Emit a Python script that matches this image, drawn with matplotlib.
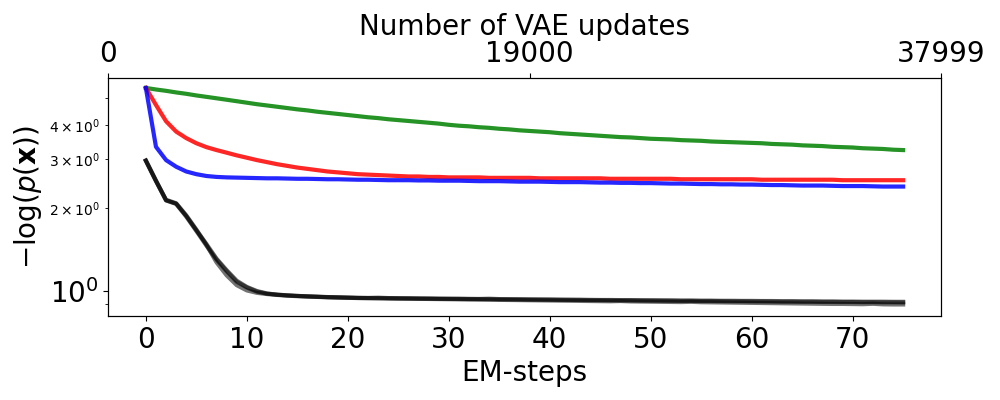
import numpy as np
import matplotlib
matplotlib.use('Agg')
import matplotlib.pyplot as plt

steps = np.arange(76)

green = [5.44, 5.37, 5.31, 5.24, 5.18, 5.11, 5.05, 4.99, 4.93, 4.87,
         4.81, 4.75, 4.70, 4.65, 4.60, 4.55, 4.51, 4.46, 4.42, 4.38,
         4.34, 4.30, 4.26, 4.23, 4.19, 4.16, 4.13, 4.10, 4.07, 4.04,
         4.00, 3.97, 3.95, 3.92, 3.90, 3.87, 3.85, 3.82, 3.80, 3.78,
         3.76, 3.73, 3.71, 3.69, 3.67, 3.65, 3.63, 3.61, 3.60, 3.58,
         3.56, 3.55, 3.54, 3.52, 3.51, 3.50, 3.48, 3.47, 3.46, 3.45,
         3.44, 3.43, 3.41, 3.40, 3.39, 3.37, 3.36, 3.35, 3.33, 3.32,
         3.31, 3.29, 3.28, 3.27, 3.25, 3.24]

red = [5.44, 4.72, 4.12, 3.78, 3.58, 3.43, 3.32, 3.24, 3.17, 3.10,
       3.04, 2.98, 2.93, 2.88, 2.84, 2.80, 2.77, 2.74, 2.71, 2.69,
       2.67, 2.65, 2.64, 2.63, 2.62, 2.61, 2.60, 2.60, 2.59, 2.59,
       2.58, 2.58, 2.58, 2.58, 2.57, 2.57, 2.57, 2.57, 2.57, 2.56,
       2.56, 2.56, 2.56, 2.56, 2.56, 2.56, 2.55, 2.55, 2.55, 2.55,
       2.55, 2.55, 2.55, 2.54, 2.54, 2.54, 2.54, 2.54, 2.54, 2.54,
       2.54, 2.53, 2.53, 2.53, 2.53, 2.53, 2.53, 2.53, 2.53, 2.52,
       2.52, 2.52, 2.52, 2.52, 2.52, 2.52]

blue = [5.44, 3.33, 2.98, 2.82, 2.71, 2.65, 2.61, 2.59, 2.58, 2.575,
        2.57, 2.565, 2.56, 2.56, 2.555, 2.55, 2.55, 2.545, 2.54, 2.54,
        2.535, 2.53, 2.53, 2.525, 2.52, 2.52, 2.52, 2.515, 2.515, 2.51,
        2.51, 2.51, 2.505, 2.50, 2.50, 2.50, 2.495, 2.49, 2.49, 2.49,
        2.485, 2.48, 2.48, 2.48, 2.475, 2.47, 2.47, 2.465, 2.465, 2.46,
        2.46, 2.455, 2.45, 2.45, 2.445, 2.44, 2.44, 2.435, 2.435, 2.43,
        2.43, 2.425, 2.42, 2.42, 2.415, 2.41, 2.41, 2.41, 2.405, 2.40,
        2.40, 2.40, 2.395, 2.39, 2.39, 2.39]

black_runs = [
    [2.97, 2.51, 2.13, 2.07, 1.87, 1.66, 1.48, 1.31, 1.19, 1.09,
     1.035, 1.00, 0.98, 0.97, 0.965, 0.96, 0.957, 0.954, 0.951, 0.949,
     0.947, 0.945, 0.944, 0.946, 0.943, 0.942, 0.941, 0.940, 0.940, 0.939,
     0.938, 0.938, 0.937, 0.936, 0.938, 0.935, 0.934, 0.934, 0.933, 0.932,
     0.932, 0.931, 0.930, 0.930, 0.929, 0.928, 0.928, 0.927, 0.927, 0.926,
     0.926, 0.925, 0.925, 0.924, 0.924, 0.923, 0.923, 0.922, 0.922, 0.921,
     0.921, 0.920, 0.920, 0.919, 0.919, 0.918, 0.918, 0.917, 0.917, 0.916,
     0.916, 0.915, 0.915, 0.915, 0.914, 0.914],
    [2.97, 2.51, 2.14, 2.08, 1.88, 1.67, 1.47, 1.27, 1.14, 1.05,
     1.005, 0.985, 0.975, 0.968, 0.962, 0.958, 0.955, 0.952, 0.949, 0.947,
     0.945, 0.943, 0.942, 0.941, 0.940, 0.939, 0.938, 0.937, 0.936, 0.935,
     0.934, 0.933, 0.932, 0.931, 0.930, 0.929, 0.928, 0.927, 0.926, 0.925,
     0.924, 0.923, 0.922, 0.921, 0.920, 0.919, 0.918, 0.920, 0.917, 0.916,
     0.915, 0.914, 0.913, 0.912, 0.914, 0.911, 0.910, 0.909, 0.908, 0.907,
     0.906, 0.905, 0.904, 0.903, 0.902, 0.901, 0.900, 0.899, 0.898, 0.898,
     0.897, 0.896, 0.899, 0.895, 0.894, 0.894],
    [2.96, 2.50, 2.13, 2.07, 1.86, 1.65, 1.46, 1.30, 1.18, 1.08,
     1.03, 0.995, 0.978, 0.970, 0.964, 0.960, 0.956, 0.953, 0.950, 0.948,
     0.946, 0.944, 0.943, 0.942, 0.941, 0.940, 0.940, 0.939, 0.938, 0.937,
     0.937, 0.936, 0.935, 0.935, 0.934, 0.933, 0.933, 0.932, 0.931, 0.931,
     0.930, 0.929, 0.929, 0.928, 0.927, 0.927, 0.926, 0.925, 0.925, 0.924,
     0.923, 0.923, 0.922, 0.921, 0.921, 0.920, 0.920, 0.919, 0.918, 0.918,
     0.917, 0.917, 0.916, 0.915, 0.915, 0.914, 0.914, 0.913, 0.913, 0.912,
     0.912, 0.911, 0.911, 0.910, 0.910, 0.909],
]

# top axis: labels at left edge, EM-step 38 and right edge
top_labels = ['0', '19000', '37999']
top_mid_step = 38

fig = plt.figure(figsize=(10, 4), dpi=100)
ax = fig.add_axes([0.108, 0.21, 0.833, 0.595])

for run in black_runs:
    ax.plot(steps, run, color='k', alpha=0.55, lw=3)
ax.plot(steps, green, color='g', alpha=0.85, lw=3)
ax.plot(steps, red, color='r', alpha=0.85, lw=3)
ax.plot(steps, blue, color='b', alpha=0.85, lw=3)

ax.set_yscale('log')
ax.set_ylim(0.812, 5.91)
ax.set_xlim(-3.75, 78.75)
ax.set_xticks(np.arange(0, 80, 10))
ax.tick_params(axis='both', which='major', labelsize=20)
ax.set_xlabel('EM-steps', fontsize=20)
ax.set_ylabel(r'$-\log(p(\mathbf{x}))$', fontsize=20)

ax2 = ax.twiny()
lo, hi = ax.get_xlim()
ax2.set_xlim(lo, hi)
ax2.set_xticks([lo, top_mid_step, hi])
ax2.set_xticklabels(top_labels)
ax2.tick_params(axis='x', labelsize=20)
ax2.set_xlabel('Number of VAE updates', fontsize=20)

plt.savefig('out.png', dpi=100)
